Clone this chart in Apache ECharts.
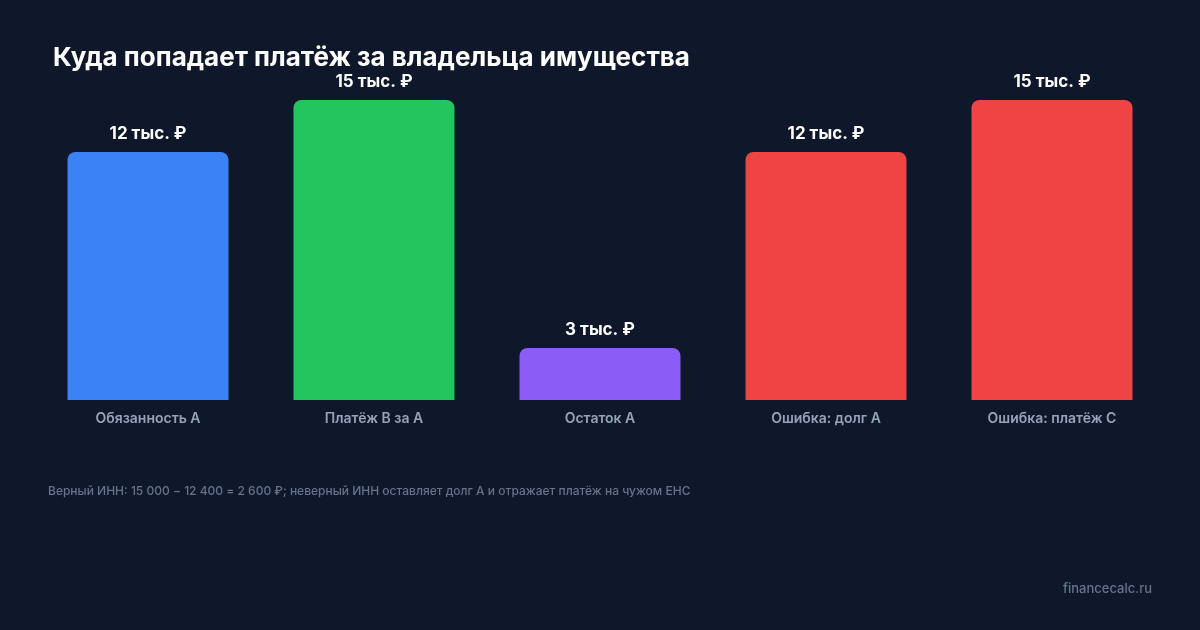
<!DOCTYPE html>
<html>
<head>
<meta charset="utf-8">
<script src="https://cdn.jsdelivr.net/npm/echarts@6/dist/echarts.min.js"></script>
<style>
  html, body { margin: 0; padding: 0; background: #0f172a; }
  #chart { width: 1200px; height: 630px; }
</style>
</head>
<body>
<div id="chart"></div>
<script>
// данные графика
const categories = ['Обязанность A', 'Платёж B за A', 'Остаток A', 'Ошибка: долг A', 'Ошибка: платёж C'];
const values = [12400, 15000, 2600, 12400, 15000];
const valueLabels = ['12 тыс. ₽', '15 тыс. ₽', '3 тыс. ₽', '12 тыс. ₽', '15 тыс. ₽'];
const colors = ['#3b82f6', '#22c55e', '#8b5cf6', '#ef4444', '#ef4444'];

const chart = echarts.init(document.getElementById('chart'));
const FONT = 'Inter, "Noto Sans", sans-serif';

chart.setOption({
  backgroundColor: '#0f172a',
  animation: false,
  title: [{
    text: 'Куда попадает платёж за владельца имущества',
    left: 48, top: 40,
    textStyle: { color: '#ffffff', fontSize: 26, fontWeight: 'bold', fontFamily: FONT }
  }],
  graphic: [{
    type: 'text', left: 48, top: 485,
    style: { text: 'Верный ИНН: 15 000 − 12 400 = 2 600 ₽; неверный ИНН оставляет долг A и отражает платёж на чужом ЕНС',
      fill: '#64748b', font: '500 12px ' + FONT }
  }, {
    type: 'text', right: 48, top: 583,
    style: { text: 'financecalc.ru', fill: '#64748b', font: '500 13px ' + FONT }
  }],
  grid: { left: 35, right: 35, top: 100, bottom: 230 },
  xAxis: {
    type: 'category',
    data: categories,
    axisLine: { show: false },
    axisTick: { show: false },
    axisLabel: { color: '#94a3b8', fontSize: 14, fontWeight: 600, fontFamily: FONT, margin: 12 }
  },
  yAxis: {
    type: 'value', min: 0, max: 15000,
    show: false, splitLine: { show: false }
  },
  series: [{
    type: 'bar',
    barWidth: 161,
    data: values.map((v, i) => ({ value: v, itemStyle: { color: colors[i] } })),
    itemStyle: { borderRadius: [8, 8, 0, 0] },
    label: {
      show: true, position: 'top', distance: 10,
      color: '#ffffff', fontSize: 17, fontWeight: 'bold', fontFamily: FONT,
      formatter: p => valueLabels[p.dataIndex]
    }
  }]
});
</script>
</body>
</html>
